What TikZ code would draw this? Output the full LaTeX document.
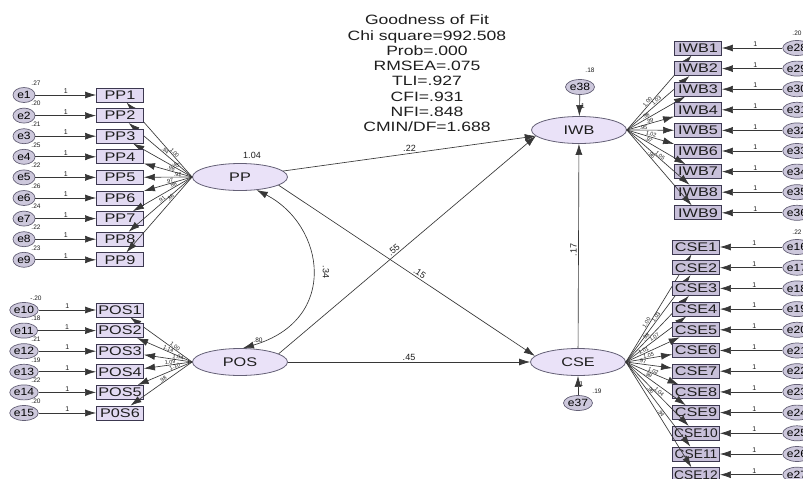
\documentclass[tikz,border=0pt]{standalone}
\usepackage{fontspec}
\setmainfont{Liberation Sans}
\usetikzlibrary{arrows.meta,shapes.geometric}
\definecolor{boxfill}{RGB}{226,218,242}
\definecolor{boxfillb}{RGB}{200,192,218}
\definecolor{boxline}{RGB}{60,56,80}
\definecolor{ellfill}{RGB}{234,226,248}
\definecolor{ellline}{RGB}{100,96,118}
\definecolor{errfill}{RGB}{205,200,220}
\definecolor{linec}{RGB}{55,55,55}
\definecolor{txt}{RGB}{30,30,30}
\newcommand\hs[2][1.3]{\scalebox{#1}[1]{#2}}
\tikzset{
  obs/.style={draw=boxline, fill=boxfill, line width=0.9pt, minimum width=47pt, minimum height=14pt, inner sep=0pt, font=\fontsize{12.5}{12.5}\selectfont, text=txt},
  obsb/.style={obs, fill=boxfillb},
  lat/.style={ellipse, draw=ellline, fill=ellfill, line width=0.8pt, minimum width=95pt, minimum height=27pt, inner sep=0pt, font=\fontsize{12.5}{12.5}\selectfont, text=txt},
  err/.style={ellipse, draw=ellline, fill=errfill, line width=0.7pt, minimum width=22pt, minimum height=15pt, inner sep=0pt, font=\fontsize{10.5}{10.5}\selectfont, text=black},
  arr/.style={draw=linec, line width=0.65pt, -{Latex[length=11pt,width=7pt]}},
  barr/.style={draw=linec, line width=0.65pt, {Latex[length=11pt,width=7pt]}-{Latex[length=11pt,width=7pt]}},
  one/.style={font=\fontsize{7}{7}\selectfont, text=txt, inner sep=1pt},
  lab/.style={font=\fontsize{5.5}{5.5}\selectfont, text=txt, inner sep=0.5pt},
  plab/.style={font=\fontsize{9}{9}\selectfont, text=txt, inner sep=1.5pt},
  vlab/.style={font=\fontsize{6.5}{6.5}\selectfont, text=txt, inner sep=0pt},
}
\begin{document}
\begin{tikzpicture}[x=1pt,y=-1pt]
\clip (0,0) rectangle (803,479);
\fill[white] (0,0) rectangle (803,479);
% fit statistics
\node[font=\fontsize{13.5}{15.3}\selectfont, text=txt, align=center, inner sep=0pt] (fit) at (427,73.5)
 {\hs{Goodness of Fit}\\\hs{Chi square=992.508}\\\hs{Prob=.000}\\\hs{RMSEA=.075}\\\hs{TLI=.927}\\\hs{CFI=.931}\\\hs{NFI=.848}\\\hs{CMIN/DF=1.688}};
% latent variables
\node[lat] (PP) at (240,177) {\hs{PP}};
\node[lat] (POS) at (240,362) {\hs{POS}};
\node[lat] (IWB) at (579,130) {\hs{IWB}};
\node[lat] (CSE) at (578,362) {\hs{CSE}};
\node[plab] (vpp) at (252,155) {1.04};
\node[vlab] (vpos) at (258,340) {.80};
% PP indicators
\foreach \i/\v/\w/\p in {1/.27/1.00/0.3,2/.20/.94/0.45,3/.21/.95/0.3,4/.25/.98/0.45,5/.22/.92/0.3,6/.26/.97/0.45,7/.24/.88/0.3,8/.22/.91/0.45,9/.23/.86/0.3}{
  \pgfmathsetmacro\yy{95+20.6*(\i-1)}
  \node[obs] (PP\i) at (120,\yy) {\hs{PP\i}};
  \node[err] (e\i) at (24,\yy) {\hs[1.15]{e\i}};
  \node[vlab] (ve\i) at (36,\yy-12) {\v};
  \draw[arr] (e\i) -- node[one,above]{1} (PP\i);
  \draw[arr] (PP.west) -- node[lab,sloped,above,pos=\p]{\w} (PP\i);
}
% POS indicators
\foreach \j/\t/\v/\w/\p in {1/POS1/-.20/1.00/0.3,2/POS2/.18/1.14/0.45,3/POS3/.21/1.04/0.3,4/POS4/.19/1.09/0.45,5/POS5/.22/1.10/0.3,6/P0S6/.20/.98/0.45}{
  \pgfmathsetmacro\yy{310+20.6*(\j-1)}
  \pgfmathtruncatemacro\k{\j+9}
  \node[obs] (POS\j) at (120,\yy) {\hs{\t}};
  \node[err] (e\k) at (24,\yy) {\hs[1.15]{e\k}};
  \node[vlab] (ve\k) at (36,\yy-12) {\v};
  \draw[arr] (e\k) -- node[one,above]{1} (POS\j);
  \draw[arr] (POS.west) -- node[lab,sloped,above,pos=\p]{\w} (POS\j);
}
% IWB indicators
\foreach \m/\w/\p in {1/1.00/0.35,2/1.03/0.5,3/.98/0.35,4/.99/0.5,5/.95/0.35,6/1.02/0.5,7/.97/0.35,8/1.05/0.5,9/.96/0.35}{
  \pgfmathsetmacro\yy{48+20.6*(\m-1)}
  \pgfmathtruncatemacro\n{\m+27}
  \node[obsb] (IWB\m) at (698,\yy) {\hs{IWB\m}};
  \node[err] (e\n) at (797,\yy) {\hs[1.15]{e\n}};
  \draw[arr] (e\n) -- node[one,above,pos=0.45]{1} (IWB\m);
  \draw[arr] (IWB.east) -- node[lab,sloped,above,pos=\p]{\w} (IWB\m);
}
\node[vlab] (v28) at (797,33) {.20};
% CSE indicators
\foreach \m/\w/\s/\p in {1/1.00/1.3/0.35,2/1.03/1.3/0.5,3/.98/1.3/0.35,4/1.07/1.3/0.5,5/1.01/1.3/0.35,6/1.05/1.3/0.5,7/.97/1.3/0.35,8/1.02/1.3/0.5,9/.99/1.3/0.35,10/1.04/1.1/0.5,11/.96/1.1/0.35,12/.94/1.1/0.5}{
  \pgfmathsetmacro\yy{247+20.7*(\m-1)}
  \pgfmathtruncatemacro\n{\m+15}
  \node[obsb] (CSE\m) at (696,\yy) {\hs[\s]{CSE\m}};
  \node[err] (e\n) at (797,\yy) {\hs[1.15]{e\n}};
  \draw[arr] (e\n) -- node[one,above,pos=0.45]{1} (CSE\m);
  \draw[arr] (CSE.east) -- node[lab,sloped,above,pos=\p]{\w} (CSE\m);
}
\node[vlab] (v16) at (797,232) {.22};
% disturbances
\node[err,minimum width=29pt] (e38) at (580,87) {\hs[1.15]{e38}};
\node[vlab] (v38) at (590,70) {.18};
\draw[arr] (e38) -- node[one,right,pos=0.55]{1} (IWB);
\node[err,minimum width=29pt] (e37) at (578,403) {\hs[1.15]{e37}};
\node[vlab] (v37) at (597,391) {.19};
\draw[arr] (e37) -- node[one,right,pos=0.55]{1} (CSE);
% structural paths
\draw[arr] (PP) -- node[plab,above,pos=0.5]{.22} (IWB);
\draw[arr] (PP.-12) -- node[plab,sloped,above,pos=0.54]{.15} (CSE.172);
\draw[arr] (POS.12) -- node[plab,sloped,above,pos=0.46]{.55} (IWB.188);
\draw[arr] (POS) -- node[plab,above,pos=0.5]{.45} (CSE);
\draw[arr] (CSE) -- node[plab,sloped,above,pos=0.48]{.17} (IWB);
\draw[barr] (PP.-38) .. controls (325,225) and (340,320) .. (POS.78);
\node[plab,rotate=-90] (l34) at (326,272) {.34};
\end{tikzpicture}
\end{document}
